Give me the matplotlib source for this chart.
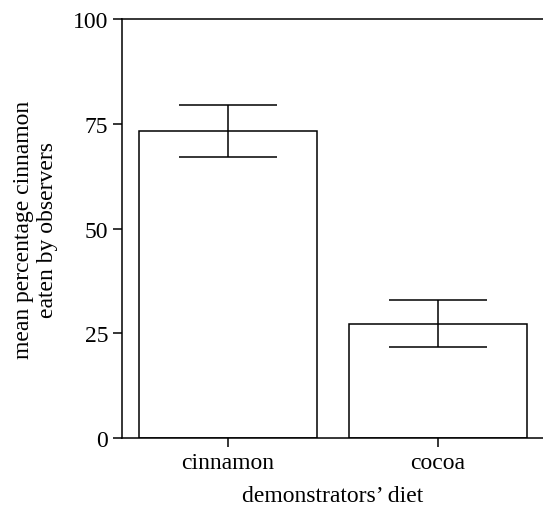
import matplotlib
matplotlib.use("Agg")
import matplotlib.pyplot as plt
import numpy as np

plt.rcParams['font.family'] = ['Liberation Serif', 'DejaVu Serif']

# data
diets = ['cinnamon', 'cocoa']
mean_pct = [73.3, 27.3]
err_pct = [6.2, 5.6]
y_ticks = [0, 25, 50, 75, 100]

fig = plt.figure(figsize=(5.43, 5.10), dpi=100)
ax = fig.add_axes([0.2247, 0.139, 0.7753, 0.822])

pos = np.arange(len(diets))
ax.bar(pos, mean_pct, width=0.85, color='white', edgecolor='black', linewidth=1.1)
ax.errorbar(pos, mean_pct, yerr=err_pct, fmt='none', ecolor='black',
            elinewidth=1.1, capsize=35, capthick=1.1)

ax.set_xlim(-0.505, 1.5)
ax.set_ylim(0, 100)
ax.set_xticks(pos)
ax.set_xticklabels(diets)
ax.set_yticks(y_ticks)
ax.tick_params(direction='out', length=6.5, width=1.1, labelsize=17)
ax.spines['right'].set_visible(False)
for s in ['left', 'bottom', 'top']:
    ax.spines[s].set_linewidth(1.1)

ax.set_xlabel("demonstrators\u2019 diet", fontsize=17)
ax.xaxis.set_label_coords(0.5, -0.112)
ax.set_ylabel("mean percentage cinnamon\neaten by observers", fontsize=17, linespacing=1.2)
ax.yaxis.set_label_coords(-0.152, 0.5)

plt.savefig("out.png", dpi=100)
